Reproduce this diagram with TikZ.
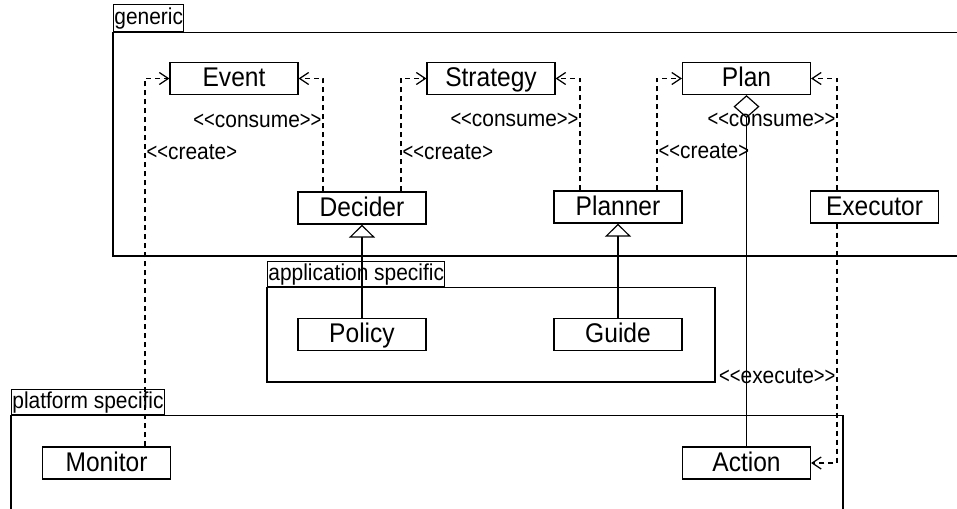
\documentclass[tikz,border=0pt]{standalone}
\usepackage{fontspec}
\setmainfont{Liberation Sans}[FakeStretch=0.91]
\newfontfamily\brfont{Liberation Sans}[FakeStretch=0.8]
\usetikzlibrary{arrows.meta}
\newcommand\ltlt{{\brfont<\kern0pt<}}
\newcommand\gtgt{{\brfont>\kern0pt>}}
\newcommand\stereo[1]{\ltlt#1\gtgt}
\begin{document}
\begin{tikzpicture}[x=1pt,y=-1pt,line width=1.2pt,
    cls/.style={draw,minimum width=128pt,minimum height=32pt,inner sep=0pt,
      text height=19.5pt,text depth=3pt,font=\fontsize{27}{30}\selectfont},
    tab/.style={draw,anchor=north west,inner xsep=0.8pt,inner ysep=0pt,font=\fontsize{23}{26}\selectfont},
    dep/.style={dash pattern=on 5pt off 4pt,-{Straight Barb[length=9pt,width=12pt]}},
    lbl/.style={inner sep=1pt,text height=15pt,text depth=1pt,font=\fontsize{23}{26}\selectfont},
    inherit/.style={-{Triangle[open,length=13pt,width=26pt]}},
    aggr/.style={{Diamond[open,length=23pt,width=26pt]}-}]
  \useasboundingbox (0,0) rectangle (957,508);
  \clip (0,0) rectangle (957,508);

  \node[tab,minimum height=27pt] (gentab) at (113,4) {generic};
  \draw (gentab.south west) rectangle (980,256);
  \node[tab,minimum height=25pt] (apptab) at (267,261) {application specific};
  \draw (apptab.south west) rectangle (715,382);
  \node[tab,minimum height=25pt] (plattab) at (11,389) {platform specific};
  \draw (plattab.south west) rectangle (843,530);

  \node[cls] (event)    at (234,78.5)  {Event};
  \node[cls] (strategy) at (491,78.5)  {Strategy};
  \node[cls] (plan)     at (746.5,78.5) {Plan};
  \node[cls] (decider)  at (362,208)   {Decider};
  \node[cls] (planner)  at (618,207)   {Planner};
  \node[cls] (executor) at (874.5,207) {Executor};
  \node[cls] (policy)   at (362,334.5) {Policy};
  \node[cls] (guide)    at (618,334.5) {Guide};
  \node[cls] (monitor)  at (106.5,463) {Monitor};
  \node[cls] (action)   at (746.5,463) {Action};

  \draw[dep] ([xshift=38.5pt]monitor.north) |- node[lbl,anchor=west,pos=0.399] {\ltlt create{\brfont>}} (event);
  \draw[dep] ([xshift=-39pt]decider.north) |- node[lbl,anchor=east,pos=0.313] {\stereo{consume}} (event);
  \draw[dep] ([xshift=39pt]decider.north) |- node[lbl,anchor=west,pos=0.172] {\ltlt create{\brfont>}} (strategy);
  \draw[dep] ([xshift=-38pt]planner.north) |- node[lbl,anchor=east,pos=0.316] {\stereo{consume}} (strategy);
  \draw[dep] ([xshift=39pt]planner.north) |- node[lbl,anchor=west,pos=0.173] {\ltlt create{\brfont>}} (plan);
  \draw[dep] ([xshift=-37.5pt]executor.north) |- node[lbl,anchor=east,pos=0.316] {\stereo{consume}} (plan);
  \draw[dep] ([xshift=-37.5pt]executor.south) |- node[lbl,anchor=east,pos=0.319] {\stereo{execute}} (action);

  \draw[aggr] (plan) -- (action);
  \draw[inherit] (policy) -- (decider);
  \draw[inherit] (guide) -- (planner);
\end{tikzpicture}
\end{document}
